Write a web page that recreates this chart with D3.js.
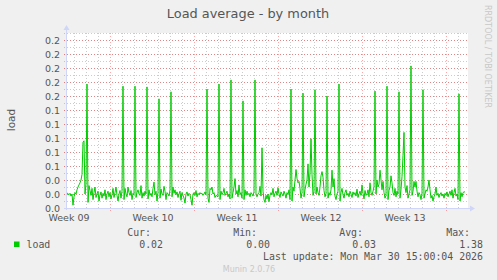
<!DOCTYPE html>
<html>
<head>
<meta charset="utf-8">
<script src="https://cdn.jsdelivr.net/npm/d3@7"></script>
<style>
  html, body { margin: 0; padding: 0; background: #f0f0f0; }
  svg { display: block; }
  text { font-family: "DejaVu Sans", sans-serif; fill: #555; }
  .mono { font-family: "DejaVu Sans Mono", monospace; }
</style>
</head>
<body>
<div id="chart"></div>
<script>
// load average samples, one every 2 hours, starting Wed Feb 25 10:00 (UTC)
const seriesName = "load";
const startTime = Date.UTC(2026, 1, 25, 10);
const stepHours = 2;
const loadValues = [
  0.022,0.020,0.019,0.021,0.017,0.020,0.004,0.016,0.022,0.020,0.026,0.030,
  0.033,0.036,0.040,0.048,0.094,0.096,0.020,0.034,0.177,0.008,0.032,0.025,
  0.018,0.028,0.012,0.022,0.030,0.015,0.020,0.024,0.010,0.019,0.023,0.014,
  0.021,0.017,0.026,0.012,0.020,0.024,0.016,0.022,0.013,0.019,0.028,0.015,
  0.022,0.030,0.018,0.010,0.020,0.025,0.014,0.024,0.174,0.012,0.028,0.020,
  0.016,0.030,0.022,0.018,0.025,0.012,0.021,0.019,0.174,0.015,0.022,0.026,
  0.020,0.018,0.032,0.014,0.022,0.017,0.024,0.020,0.173,0.013,0.026,0.018,
  0.021,0.016,0.028,0.037,0.019,0.024,0.010,0.022,0.156,0.014,0.027,0.020,
  0.018,0.031,0.024,0.012,0.022,0.020,0.017,0.026,0.166,0.016,0.030,0.021,
  0.026,0.019,0.023,0.015,0.020,0.024,0.011,0.022,0.018,0.014,0.007,0.020,
  0.023,0.017,0.021,0.019,0.012,0.004,0.020,0.022,0.018,0.025,0.016,0.021,
  0.019,0.022,0.020,0.021,0.018,0.020,0.023,0.019,0.170,0.014,0.008,0.028,
  0.026,0.030,0.020,0.022,0.015,0.018,0.017,0.016,0.177,0.012,0.024,0.019,
  0.022,0.028,0.018,0.021,0.024,0.016,0.020,0.013,0.183,0.014,0.022,0.030,
  0.042,0.020,0.025,0.016,0.033,0.019,0.022,0.014,0.153,0.012,0.026,0.018,
  0.024,0.019,0.021,0.016,0.022,0.020,0.017,0.023,0.183,0.019,0.016,0.020,
  0.022,0.031,0.017,0.086,0.024,0.012,0.008,0.018,0.013,0.020,0.009,0.018,
  0.022,0.019,0.028,0.016,0.021,0.024,0.018,0.029,0.020,0.015,0.023,0.020,
  0.017,0.024,0.020,0.014,0.022,0.019,0.026,0.012,0.170,0.010,0.030,0.024,
  0.040,0.055,0.042,0.036,0.038,0.028,0.014,0.022,0.164,0.016,0.026,0.034,
  0.040,0.063,0.030,0.050,0.099,0.048,0.018,0.024,0.169,0.020,0.030,0.022,
  0.018,0.030,0.046,0.052,0.044,0.025,0.016,0.020,0.160,0.014,0.022,0.018,
  0.026,0.054,0.030,0.042,0.017,0.012,0.020,0.024,0.177,0.010,0.022,0.028,
  0.019,0.014,0.022,0.026,0.018,0.021,0.016,0.024,0.020,0.015,0.023,0.019,
  0.022,0.017,0.027,0.015,0.020,0.024,0.018,0.033,0.021,0.013,0.025,0.018,
  0.020,0.026,0.016,0.036,0.022,0.018,0.024,0.030,0.167,0.020,0.040,0.030,
  0.034,0.054,0.040,0.026,0.038,0.022,0.014,0.018,0.174,0.012,0.025,0.030,
  0.046,0.036,0.022,0.018,0.028,0.016,0.024,0.020,0.166,0.014,0.026,0.045,
  0.075,0.108,0.030,0.022,0.032,0.014,0.020,0.026,0.203,0.018,0.024,0.038,
  0.030,0.038,0.024,0.016,0.022,0.019,0.012,0.020,0.169,0.014,0.020,0.026,
  0.024,0.030,0.040,0.026,0.014,0.018,0.010,0.016,0.020,0.030,0.018,0.021,
  0.015,0.019,0.022,0.017,0.020,0.014,0.021,0.018,0.023,0.016,0.020,0.024,
  0.018,0.026,0.014,0.022,0.028,0.017,0.020,0.012,0.163,0.010,0.022,0.016,
  0.022,0.023,0.023
];

const yTicks = [0, 0.02, 0.04, 0.06, 0.08, 0.10, 0.12, 0.14, 0.16, 0.18, 0.20, 0.22, 0.24];
const weekLabels = ["Week 09", "Week 10", "Week 11", "Week 12", "Week 13"];
const weekLabelDates = ["2026-02-25T14:00Z", "2026-03-04T14:00Z", "2026-03-11T14:00Z", "2026-03-18T14:00Z", "2026-03-25T14:00Z"];
const legendHeaders = ["Cur:", "Min:", "Avg:", "Max:"];
const legendValues = ["0.02", "0.00", "0.03", "1.38"];
const lastUpdate = "Last update: Mon Mar 30 15:00:04 2026";
const titleText = "Load average - by month";

const width = 497, height = 280;
const plot = { left: 67, right: 468, top: 33, bottom: 208 };
const lineColor = "#00cc00";

const svg = d3.select("#chart").append("svg")
  .attr("width", width)
  .attr("height", height);

svg.append("rect").attr("width", width).attr("height", height).attr("fill", "#f0f0f0");

const x = d3.scaleUtc()
  .domain([new Date(startTime), new Date(Date.UTC(2026, 2, 30, 20))])
  .range([plot.left, plot.right]);

const y = d3.scaleLinear()
  .domain([0, 0.25])
  .range([plot.bottom, plot.top]);

// canvas
svg.append("rect")
  .attr("x", plot.left).attr("y", plot.top)
  .attr("width", plot.right - plot.left).attr("height", plot.bottom - plot.top)
  .attr("fill", "#fff");

const grid = svg.append("g");
const crisp = v => Math.round(v) + 0.5;

// minor horizontal grid
grid.selectAll(".hminor")
  .data(y.ticks(25).filter(v => v > 0))
  .join("line")
  .attr("x1", plot.left - 3).attr("x2", plot.right)
  .attr("y1", d => crisp(y(d))).attr("y2", d => crisp(y(d)))
  .attr("stroke", "rgba(128,128,128,0.4)")
  .attr("stroke-dasharray", "1,2");

// major horizontal grid
grid.selectAll(".hmajor")
  .data(yTicks.filter(v => v > 0))
  .join("line")
  .attr("x1", plot.left - 3).attr("x2", plot.right + 1)
  .attr("y1", d => crisp(y(d))).attr("y2", d => crisp(y(d)))
  .attr("stroke", "rgba(255,0,0,0.35)")
  .attr("stroke-dasharray", "1,2");

// vertical grid: days gray, week starts red
const days = x.ticks(d3.utcDay);
const sundays = d3.utcSunday.range(...x.domain());
const isSunday = d => d.getUTCDay() === 0;

grid.selectAll(".vminor")
  .data(days.filter(d => !isSunday(d)))
  .join("line")
  .attr("x1", d => crisp(x(d))).attr("x2", d => crisp(x(d)))
  .attr("y1", plot.top).attr("y2", plot.bottom + 2)
  .attr("stroke", "rgba(128,128,128,0.4)")
  .attr("stroke-dasharray", "1,2");

grid.selectAll(".vmajor")
  .data(sundays)
  .join("line")
  .attr("x1", d => crisp(x(d))).attr("x2", d => crisp(x(d)))
  .attr("y1", plot.top).attr("y2", plot.bottom + 3)
  .attr("stroke", "rgba(255,0,0,0.35)")
  .attr("stroke-dasharray", "1,2");

// axes (munin style pale blue with arrows)
const axisColor = "#cfd6f8";
svg.append("line")
  .attr("x1", plot.left - 0.5).attr("x2", plot.left - 0.5)
  .attr("y1", plot.bottom + 2).attr("y2", plot.top - 4)
  .attr("stroke", axisColor);
svg.append("path")
  .attr("d", `M${plot.left - 3.5},${plot.top - 3} L${plot.left - 0.5},${plot.top - 8} L${plot.left + 2.5},${plot.top - 3} Z`)
  .attr("fill", axisColor);
svg.append("line")
  .attr("x1", plot.left - 3).attr("x2", plot.right + 4)
  .attr("y1", plot.bottom + 0.5).attr("y2", plot.bottom + 0.5)
  .attr("stroke", axisColor);
svg.append("path")
  .attr("d", `M${plot.right + 2},${plot.bottom - 2.5} L${plot.right + 7},${plot.bottom + 0.5} L${plot.right + 2},${plot.bottom + 3.5} Z`)
  .attr("fill", axisColor);

// data line
svg.append("clipPath").attr("id", "clip")
  .append("rect")
  .attr("x", plot.left).attr("y", plot.top)
  .attr("width", plot.right - plot.left).attr("height", plot.bottom - plot.top);

const line = d3.line()
  .x((d, i) => x(new Date(startTime + i * stepHours * 3600e3)))
  .y(d => y(d));

svg.append("path")
  .datum(loadValues)
  .attr("clip-path", "url(#clip)")
  .attr("fill", "none")
  .attr("stroke", lineColor)
  .attr("stroke-width", 1)
  .attr("d", line);

// y tick labels
const fmt = d3.format(".1f");
svg.append("g").selectAll("text")
  .data(yTicks)
  .join("text")
  .attr("x", 60)
  .attr("y", d => y(d) + 3.5)
  .attr("text-anchor", "end")
  .attr("font-size", 9.5)
  .text(d => fmt(d));

// x labels
svg.append("g").selectAll("text")
  .data(weekLabels)
  .join("text")
  .attr("x", (d, i) => x(new Date(weekLabelDates[i])))
  .attr("y", 220.5)
  .attr("text-anchor", "middle")
  .attr("font-size", 9.5)
  .text(d => d);

// title
svg.append("text")
  .attr("x", 248).attr("y", 18)
  .attr("text-anchor", "middle")
  .attr("font-size", 12.9)
  .text(titleText);

// y axis title
svg.append("text")
  .attr("transform", "translate(14.5,120) rotate(-90)")
  .attr("text-anchor", "middle")
  .attr("font-size", 10.5)
  .text(seriesName);

// watermark
svg.append("text")
  .attr("transform", "translate(485,5) rotate(90)")
  .attr("font-size", 8)
  .style("fill", "#c8c8c8")
  .text("RRDTOOL / TOBI OETIKER");

// legend
const headerRight = [151, 257, 363, 470];
const valueRight = [163, 270, 376, 483];
const legend = svg.append("g").attr("class", "mono");

legend.selectAll(".hdr")
  .data(legendHeaders)
  .join("text")
  .attr("class", "mono")
  .attr("x", (d, i) => headerRight[i])
  .attr("y", 236)
  .attr("text-anchor", "end")
  .attr("font-size", 9.9)
  .text(d => d);

legend.append("rect")
  .attr("x", 14).attr("y", 241.5)
  .attr("width", 5.5).attr("height", 5.5)
  .attr("fill", lineColor);

legend.append("text")
  .attr("class", "mono")
  .attr("x", 26.5).attr("y", 247.5)
  .attr("font-size", 9.9)
  .text(seriesName);

legend.selectAll(".val")
  .data(legendValues)
  .join("text")
  .attr("class", "mono")
  .attr("x", (d, i) => valueRight[i])
  .attr("y", 247.5)
  .attr("text-anchor", "end")
  .attr("font-size", 9.9)
  .text(d => d);

legend.append("text")
  .attr("class", "mono")
  .attr("x", 483).attr("y", 259.5)
  .attr("text-anchor", "end")
  .attr("font-size", 9.9)
  .text(lastUpdate);

svg.append("text")
  .attr("x", 249).attr("y", 272)
  .attr("text-anchor", "middle")
  .attr("font-size", 8)
  .style("fill", "#c8c8c8")
  .text("Munin 2.0.76");
</script>
</body>
</html>
